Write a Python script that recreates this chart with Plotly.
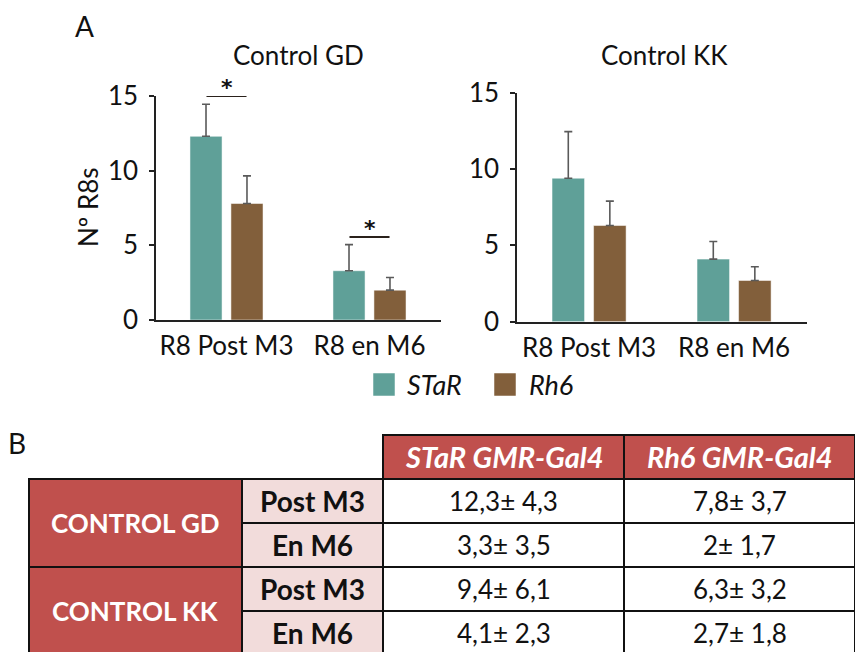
import plotly.graph_objects as go

# ---- data ----
categories = ["R8 Post M3", "R8 en M6"]
series_names = ["STaR", "Rh6"]
gd_means = {"STaR": [12.3, 3.3], "Rh6": [7.8, 2.0]}
gd_sd = {"STaR": [4.3, 3.5], "Rh6": [3.7, 1.7]}
kk_means = {"STaR": [9.4, 4.1], "Rh6": [6.3, 2.7]}
kk_sd = {"STaR": [6.1, 2.3], "Rh6": [3.2, 1.8]}
n_per_group = 4  # error bars show SEM = SD / sqrt(n)
y_ticks = [0, 5, 10, 15]
row_groups = ["CONTROL GD", "CONTROL KK"]
row_labels = ["Post M3", "En M6"]
col_headers = ["STaR GMR-Gal4", "Rh6 GMR-Gal4"]
# significance: (category index, height of the bracket) in the GD panel
gd_significance = [(0, 15.0), (1, 5.55)]

colors = {"STaR": "#5FA098", "Rh6": "#825F3B"}
RED = "#C0504D"
PINK = "#F2DCDB"
FONT = "Lato"

W, H = 855, 652


def px(x):
    return x / W


def py(y):
    return 1 - y / H


fig = go.Figure()

panels = [
    ("x", "y", gd_means, gd_sd),
    ("x2", "y2", kk_means, kk_sd),
]
for xa, ya, means, sds in panels:
    for s in series_names:
        sem = [v / n_per_group ** 0.5 for v in sds[s]]
        fig.add_trace(go.Bar(
            x=categories, y=means[s], name=s, xaxis=xa, yaxis=ya,
            marker=dict(color=colors[s], line=dict(color="rgba(255,255,255,0.5)", width=1)),
            error_y=dict(type="data", array=sem, arrayminus=[0] * len(sem), symmetric=False,
                         color="#5a5a5a", thickness=1.6, width=4),
            showlegend=False,
        ))

axis_common = dict(showgrid=False, zeroline=False, showline=True, linecolor="#222",
                   linewidth=1.5, automargin=False,
                   tickfont=dict(family=FONT, size=26, color="#111"))

fig.update_layout(
    width=W, height=H, autosize=False, margin=dict(l=0, r=0, t=0, b=0, pad=0),
    paper_bgcolor="white", plot_bgcolor="white", showlegend=False,
    barmode="group", bargap=0.427, bargroupgap=0.217,
    xaxis=dict(axis_common, domain=[px(156), px(441)], range=[-0.493, 1.5],
               ticks="", anchor="y", ticklabelstandoff=2),
    yaxis=dict(axis_common, domain=[py(320), py(96)], range=[0, 15], tickvals=y_ticks,
               ticks="outside", ticklen=5, tickcolor="#222", tickwidth=1.5, anchor="x",
               ticklabelstandoff=6),
    xaxis2=dict(axis_common, domain=[px(517), px(807)], range=[-0.497, 1.503],
                ticks="", anchor="y2", ticklabelstandoff=2),
    yaxis2=dict(axis_common, domain=[py(321.7), py(92.7)], range=[0, 15], tickvals=y_ticks,
                ticks="outside", ticklen=5, tickcolor="#222", tickwidth=1.5, anchor="x2",
                ticklabelstandoff=6),
)

shapes = []
annotations = []


def text(x, y, s, size, color="#111", bold=False, italic=False, angle=0, xanchor="center"):
    if bold:
        s = f"<b>{s}</b>"
    if italic:
        s = f"<i>{s}</i>"
    annotations.append(dict(x=px(x), y=py(y), xref="paper", yref="paper", text=s,
                            showarrow=False, xanchor=xanchor, yanchor="middle",
                            textangle=angle,
                            font=dict(family=FONT, size=size, color=color)))


# panel letters, titles, y-axis title
text(84, 26, "A", 28)
text(298, 55, "Control GD", 26)
text(664, 55, "Control KK", 26)
text(88, 207, "Nº R8s", 26, angle=-90)

# significance markers (data coordinates of the GD panel)
for cat_idx, y_line in gd_significance:
    shapes.append(dict(type="line", xref="x", yref="y", x0=cat_idx - 0.14, x1=cat_idx + 0.14,
                       y0=y_line, y1=y_line, line=dict(color="#2a211b", width=2)))
    annotations.append(dict(x=cat_idx, y=y_line, xref="x", yref="y", text="<b>*</b>",
                            showarrow=False, yanchor="middle", yshift=9,
                            font=dict(family="DejaVu Sans", size=22, color="#111")))

# legend
legend_items = [(373, 405), (494, 527)]
for (sx, tx), s in zip(legend_items, series_names):
    shapes.append(dict(type="rect", xref="paper", yref="paper", x0=px(sx), x1=px(sx + 22),
                       y0=py(396), y1=py(373), fillcolor=colors[s],
                       line=dict(color="rgba(255,255,255,0.5)", width=1)))
    text(tx, 384, s, 27, italic=True, xanchor="left")

# ---- table ----
text(17, 443, "B", 28)
row_edges = [479, 523, 567, 611, 655]
col_x = [29, 242, 383, 624, 855]
header_top = 435


def rect(x0, y0, x1, y1, fill):
    shapes.append(dict(type="rect", xref="paper", yref="paper", x0=px(x0), x1=px(x1),
                       y0=py(y1), y1=py(y0), fillcolor=fill,
                       line=dict(color="#111", width=2), layer="below"))


# header cells
for j, h in enumerate(col_headers):
    rect(col_x[2 + j], header_top, col_x[3 + j], row_edges[0], RED)
    text((col_x[2 + j] + col_x[3 + j]) / 2, (header_top + row_edges[0]) / 2, h, 29,
         color="white", bold=True, italic=True)

table_means = [gd_means, kk_means]
table_sd = [gd_sd, kk_sd]


def fmt(v):
    return f"{v:g}".replace(".", ",")


for g, grp in enumerate(row_groups):
    top = row_edges[2 * g]
    bot = row_edges[2 * g + 2]
    rect(col_x[0], top, col_x[1], bot, RED)
    text((col_x[0] + col_x[1]) / 2, (top + bot) / 2, grp, 26, color="white", bold=True)
    for r, lab in enumerate(row_labels):
        t = row_edges[2 * g + r]
        b = row_edges[2 * g + r + 1]
        rect(col_x[1], t, col_x[2], b, PINK)
        text((col_x[1] + col_x[2]) / 2, (t + b) / 2, lab, 28, bold=True)
        for j, s in enumerate(series_names):
            rect(col_x[2 + j], t, col_x[3 + j], b, "white")
            val = f"{fmt(table_means[g][s][r])}± {fmt(table_sd[g][s][r])}"
            text((col_x[2 + j] + col_x[3 + j]) / 2, (t + b) / 2, val, 26)

fig.update_layout(shapes=shapes, annotations=annotations)
fig.write_html("out.html")
